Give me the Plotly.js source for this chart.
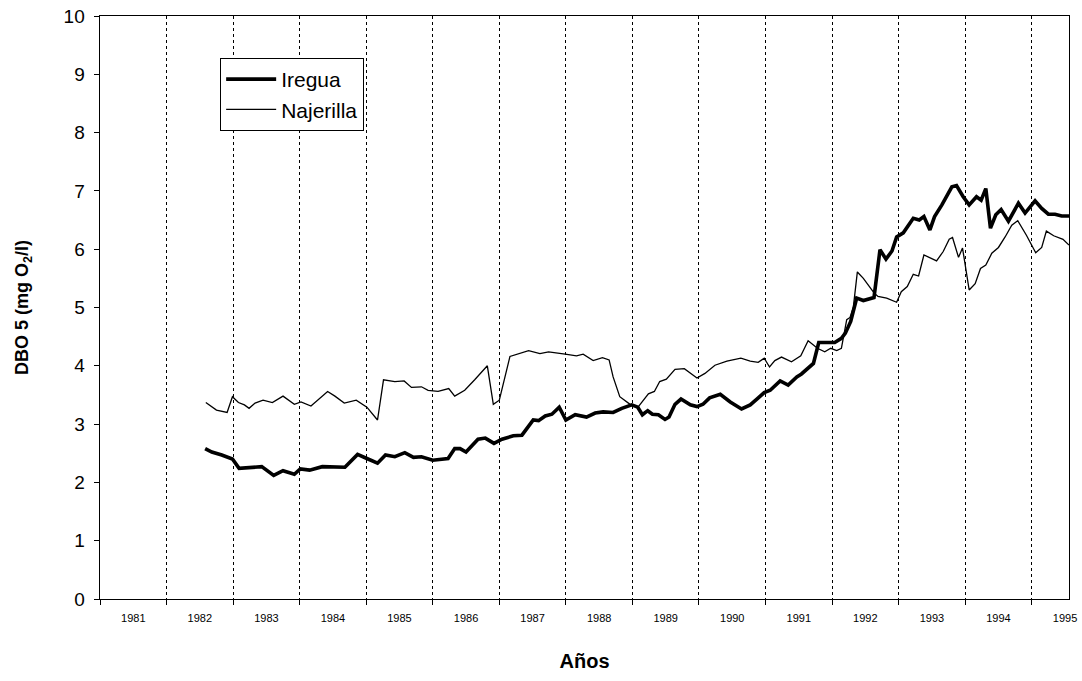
<!DOCTYPE html>
<html>
<head>
<meta charset="utf-8">
<script src="https://cdn.plot.ly/plotly-3.0.1.min.js"></script>
<style>html,body{margin:0;padding:0;background:#fff;}#chart{width:1082px;height:681px;}</style>
</head>
<body>
<div id="chart"></div>
<script>
// Year labels (centered in each year band)
const yearLabels = ["1981","1982","1983","1984","1985","1986","1987","1988","1989","1990","1991","1992","1993","1994","1995"];
const yearLabelPos = [1981.5,1982.5,1983.5,1984.5,1985.5,1986.5,1987.5,1988.5,1989.5,1990.5,1991.5,1992.5,1993.5,1994.5,1995.5];

// Iregua (thick line)
const iregua_x = [1982.58,1982.68,1982.83,1982.99,1983.09,1983.25,1983.43,1983.61,1983.75,1983.92,
  1984.01,1984.15,1984.34,1984.68,1984.87,1985.01,1985.17,1985.29,1985.43,1985.58,
  1985.71,1985.83,1986.00,1986.23,1986.33,1986.41,1986.50,1986.68,1986.79,1986.92,
  1987.04,1987.21,1987.34,1987.51,1987.59,1987.69,1987.79,1987.90,1988.00,1988.14,
  1988.31,1988.44,1988.56,1988.71,1988.84,1988.99,1989.08,1989.15,1989.23,1989.30,
  1989.39,1989.49,1989.55,1989.64,1989.73,1989.87,1989.97,1990.06,1990.16,1990.32,
  1990.47,1990.64,1990.77,1990.87,1990.98,1991.07,1991.22,1991.34,1991.47,1991.54,
  1991.72,1991.80,1992.04,1992.14,1992.20,1992.28,1992.37,1992.47,1992.63,1992.72,
  1992.81,1992.90,1992.97,1993.07,1993.22,1993.31,1993.38,1993.47,1993.54,1993.65,
  1993.80,1993.87,1993.97,1994.06,1994.17,1994.24,1994.31,1994.38,1994.46,1994.54,
  1994.65,1994.80,1994.90,1995.05,1995.15,1995.25,1995.35,1995.45,1995.56];
const iregua_y = [2.58,2.52,2.47,2.40,2.24,2.26,2.27,2.12,2.20,2.14,
  2.23,2.21,2.27,2.26,2.48,2.41,2.33,2.47,2.44,2.51,
  2.43,2.44,2.38,2.41,2.58,2.58,2.52,2.74,2.76,2.67,
  2.74,2.80,2.81,3.07,3.06,3.14,3.17,3.29,3.07,3.16,
  3.12,3.19,3.21,3.20,3.27,3.33,3.29,3.16,3.23,3.17,
  3.16,3.08,3.12,3.34,3.43,3.33,3.30,3.34,3.45,3.51,
  3.38,3.26,3.33,3.43,3.54,3.58,3.74,3.67,3.81,3.86,
  4.04,4.40,4.40,4.47,4.56,4.76,5.16,5.12,5.17,5.99,
  5.83,5.97,6.21,6.28,6.53,6.50,6.56,6.33,6.56,6.76,
  7.07,7.09,6.90,6.76,6.90,6.84,7.04,6.36,6.59,6.68,
  6.48,6.79,6.62,6.83,6.70,6.60,6.60,6.57,6.57];

// Najerilla (thin line)
const najerilla_x = [1982.59,1982.75,1982.91,1982.99,1983.08,1983.17,1983.24,1983.33,1983.45,1983.59,
  1983.75,1983.92,1984.02,1984.17,1984.42,1984.53,1984.67,1984.85,1985.01,1985.17,
  1985.26,1985.43,1985.57,1985.68,1985.83,1985.93,1986.08,1986.24,1986.33,1986.48,
  1986.63,1986.82,1986.91,1987.00,1987.16,1987.31,1987.44,1987.61,1987.74,1987.99,
  1988.16,1988.26,1988.41,1988.55,1988.65,1988.71,1988.81,1988.94,1989.00,1989.09,
  1989.24,1989.33,1989.41,1989.51,1989.64,1989.78,1989.89,1989.97,1990.09,1990.24,
  1990.42,1990.63,1990.77,1990.89,1990.98,1991.06,1991.14,1991.24,1991.39,1991.53,
  1991.64,1991.78,1991.89,1991.98,1992.07,1992.14,1992.22,1992.27,1992.32,1992.38,
  1992.47,1992.63,1992.69,1992.82,1992.97,1993.04,1993.13,1993.22,1993.30,1993.38,
  1993.57,1993.67,1993.76,1993.81,1993.90,1993.96,1994.06,1994.15,1994.23,1994.31,
  1994.40,1994.50,1994.60,1994.70,1994.79,1994.92,1995.06,1995.15,1995.22,1995.33,
  1995.47,1995.56];
const najerilla_y = [3.37,3.24,3.20,3.47,3.37,3.33,3.27,3.36,3.41,3.37,
  3.48,3.34,3.38,3.31,3.56,3.48,3.36,3.41,3.29,3.07,
  3.76,3.73,3.74,3.63,3.64,3.58,3.56,3.61,3.48,3.58,
  3.76,4.00,3.34,3.41,4.16,4.21,4.26,4.21,4.24,4.20,
  4.17,4.20,4.09,4.14,4.10,3.81,3.47,3.36,3.31,3.30,
  3.52,3.56,3.73,3.77,3.94,3.95,3.86,3.79,3.87,4.01,
  4.08,4.13,4.08,4.06,4.13,3.98,4.09,4.15,4.07,4.17,
  4.43,4.30,4.24,4.30,4.26,4.30,4.79,4.83,5.01,5.61,
  5.50,5.25,5.19,5.16,5.09,5.27,5.36,5.57,5.54,5.90,
  5.80,5.96,6.17,6.20,5.86,6.02,5.30,5.41,5.67,5.73,
  5.93,6.03,6.21,6.41,6.49,6.24,5.94,6.03,6.31,6.23,
  6.17,6.07];

const traces = [
  {x: iregua_x, y: iregua_y, type: 'scatter', mode: 'lines', name: 'Iregua',
   line: {color: '#000', width: 3.6}},
  {x: najerilla_x, y: najerilla_y, type: 'scatter', mode: 'lines', name: 'Najerilla',
   line: {color: '#000', width: 1.3}}
];

const layout = {
  width: 1082, height: 681,
  margin: {l: 100, r: 13, t: 16, b: 82, pad: 0},
  paper_bgcolor: '#fff', plot_bgcolor: '#fff',
  font: {family: 'Liberation Sans, Arial, sans-serif', color: '#000'},
  showlegend: true,
  legend: {x: 0.124, y: 0.928, xanchor: 'left', yanchor: 'top',
    bgcolor: '#fff', bordercolor: '#000', borderwidth: 1,
    font: {size: 21, color: '#000'}, tracegroupgap: 0, itemwidth: 50},
  xaxis: {
    range: [1981, 1995.56], autorange: false,
    tickmode: 'array', tickvals: yearLabelPos, ticktext: yearLabels,
    ticks: 'outside', ticklen: 9, tickcolor: 'rgba(0,0,0,0)',
    tickfont: {size: 11, color: '#000'},
    showgrid: false, zeroline: false,
    showline: true, linecolor: '#000', linewidth: 1.2, mirror: true,
    minor: {tickmode: 'linear', tick0: 1981, dtick: 1, ticks: 'outside', ticklen: 5,
      tickcolor: '#000', showgrid: true, gridcolor: '#000', griddash: 'dot', gridwidth: 1},
    title: {text: '<b>Años</b>', font: {size: 20, color: '#000'}, standoff: 30}
  },
  yaxis: {
    range: [0, 10], autorange: false,
    tickmode: 'linear', tick0: 0, dtick: 1,
    ticks: 'outside', ticklen: 5, tickcolor: '#000',
    ticksuffix: '\u00a0',
    tickfont: {size: 19, color: '#000'},
    showgrid: false, zeroline: false,
    showline: true, linecolor: '#000', linewidth: 1.2, mirror: true,
    title: {text: '<b>DBO 5 (mg O<sub>2</sub>/l)</b>', font: {size: 18, color: '#000'}, standoff: 30}
  }
};

Plotly.newPlot('chart', traces, layout, {displayModeBar: false, staticPlot: true});
</script>
</body>
</html>
